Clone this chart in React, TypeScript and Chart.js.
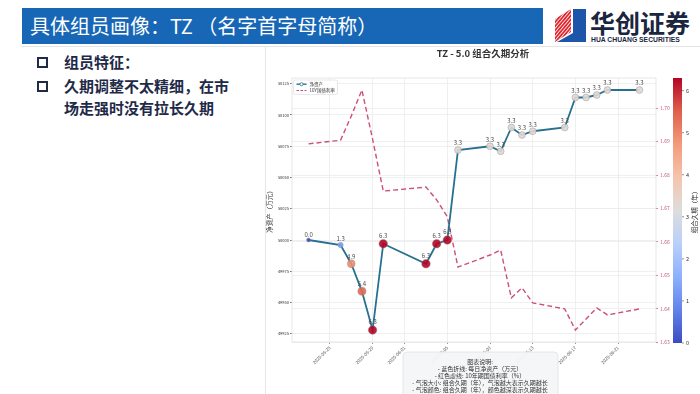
import React, { useEffect, useRef } from 'react';
import { Chart, registerables } from 'chart.js';
Chart.register(...registerables);

const FONT = "'Noto Sans CJK SC', 'DejaVu Sans', sans-serif";

const DATES = ['2025-05-23', '2025-05-26', '2025-05-27', '2025-05-28', '2025-05-29', '2025-05-30', '2025-06-03', '2025-06-04', '2025-06-05', '2025-06-06', '2025-06-09', '2025-06-10', '2025-06-11', '2025-06-12', '2025-06-13', '2025-06-16', '2025-06-17', '2025-06-18', '2025-06-19', '2025-06-20', '2025-06-23'];
const NET_ASSET = [50000, 49996, 49981, 49959, 49928, 49997, 49981, 49997, 50000, 50072, 50075, 50071, 50090, 50084, 50087, 50090, 50114, 50114, 50116, 50120, 50120];
const DURATION = [0.0, 1.3, 4.9, 5.4, 6.3, 6.3, 6.3, 6.3, 6.3, 3.3, 3.3, 3.3, 3.3, 3.3, 3.3, 3.3, 3.3, 3.3, 3.3, 3.3, 3.3];
const BOND_YIELD = [1.6893, 1.6904, 1.6976, 1.7054, 1.6907, 1.6752, 1.6764, 1.6726, 1.6675, 1.6525, 1.6561, 1.6576, 1.6433, 1.6463, 1.6418, 1.64, 1.6337, 1.637, 1.6403, 1.6382, 1.64];

const X_TICK_LABELS = ['2025-05-25', '2025-05-29', '2025-06-01', '2025-06-05', '2025-06-09', '2025-06-13', '2025-06-17', '2025-06-21'];
const Y_TICKS = [49925, 49950, 49975, 50000, 50025, 50050, 50075, 50100, 50125];
const Y1_TICKS = [1.63, 1.64, 1.65, 1.66, 1.67, 1.68, 1.69, 1.7];
const CBAR_TICKS = [0, 1, 2, 3, 4, 5, 6];

const TITLE = 'TZ - 5.0 组合久期分析';
const SERIES_NAMES = ['净资产', '10Y国债利率'];
const Y_TITLE = '净资产（万元）';
const CBAR_TITLE = '组合久期（年）';
const EXPLAIN_LINES = [
  '图表说明:',
  '- 蓝色折线: 每日净资产（万元）',
  '- 红色虚线: 10年期国债利率（%）',
  '- 气泡大小: 组合久期（年），气泡越大表示久期越长',
  '- 气泡颜色: 组合久期（年），颜色越深表示久期越长',
];

const BLUE = '#27708f';
const PINK = '#cc5079';

const dayOf = (s: string) => {
  const [y, m, d] = s.split('-').map(Number);
  return (Date.UTC(y, m - 1, d) - Date.UTC(2025, 4, 23)) / 86400000;
};

const X_DAYS = DATES.map(dayOf);
const X_TICK_DAYS = X_TICK_LABELS.map(dayOf);

const pad = (arr: number[]) => {
  const mn = Math.min(...arr), mx = Math.max(...arr);
  const m = (mx - mn) * 0.05;
  return [mn - m, mx + m];
};
const [XMIN, XMAX] = pad(X_DAYS);
const [YMIN, YMAX] = pad(NET_ASSET);
const [Y1MIN, Y1MAX] = pad(BOND_YIELD);
const DMAX = Math.max(...DURATION);

const CW = [[59, 76, 192], [98, 130, 234], [141, 176, 254], [184, 208, 249], [221, 221, 221], [245, 196, 173], [244, 154, 123], [222, 96, 77], [180, 4, 38]];
function coolwarm(t: number, a = 1) {
  t = Math.max(0, Math.min(1, t));
  const p = t * 8;
  const i = Math.min(7, Math.floor(p));
  const f = p - i;
  const c = CW[i].map((v, k) => Math.round(v + (CW[i + 1][k] - v) * f));
  return `rgba(${c[0]},${c[1]},${c[2]},${a})`;
}
const bubbleR = (d: number) => Math.sqrt(4 + 2.3 * d);

const overlay = {
  id: 'overlay',
  beforeDatasetsDraw(chart: any) {
    const { ctx, chartArea: ca } = chart;
    ctx.save();
    ctx.strokeStyle = '#e2e2e2';
    ctx.lineWidth = 0.8;
    ctx.strokeRect(ca.left, ca.top, ca.right - ca.left, ca.bottom - ca.top);
    ctx.restore();
  },
  afterDatasetsDraw(chart: any) {
    const ctx = chart.ctx;
    const meta = chart.getDatasetMeta(0);
    ctx.save();
    ctx.font = `6px ${FONT}`;
    ctx.fillStyle = '#4a4a4a';
    ctx.textAlign = 'center';
    ctx.textBaseline = 'bottom';
    meta.data.forEach((pt: any, i: number) => {
      ctx.fillText(DURATION[i].toFixed(1), pt.x, pt.y - bubbleR(DURATION[i]) - 0.5);
    });
    ctx.restore();
  },
  afterDraw(chart: any) {
    const { ctx, chartArea: ca } = chart;
    ctx.save();
    // legend
    const lx = ca.left + 1.5, ly = ca.top + 2;
    ctx.fillStyle = 'rgba(255,255,255,0.9)';
    ctx.strokeStyle = '#d0d0d0';
    ctx.lineWidth = 0.5;
    ctx.beginPath();
    (ctx as any).roundRect(lx, ly, 44, 14.5, 1.5);
    ctx.fill();
    ctx.stroke();
    ctx.lineWidth = 1.4;
    ctx.strokeStyle = BLUE;
    ctx.beginPath();
    ctx.moveTo(lx + 3, ly + 4.2);
    ctx.lineTo(lx + 13, ly + 4.2);
    ctx.stroke();
    ctx.fillStyle = '#fff';
    ctx.lineWidth = 0.8;
    ctx.beginPath();
    ctx.arc(lx + 8, ly + 4.2, 1.6, 0, Math.PI * 2);
    ctx.fill();
    ctx.stroke();
    ctx.strokeStyle = PINK;
    ctx.lineWidth = 1.2;
    ctx.setLineDash([2.5, 1.5]);
    ctx.beginPath();
    ctx.moveTo(lx + 3, ly + 10.5);
    ctx.lineTo(lx + 13, ly + 10.5);
    ctx.stroke();
    ctx.setLineDash([]);
    ctx.fillStyle = '#333';
    ctx.font = `4.5px ${FONT}`;
    ctx.textAlign = 'left';
    ctx.textBaseline = 'middle';
    ctx.fillText(SERIES_NAMES[0], lx + 16, ly + 4.2);
    ctx.fillText(SERIES_NAMES[1], lx + 16, ly + 10.5);

    // colorbar
    const cx = ca.right + 17, cw = 9;
    const top = ca.top, bot = ca.bottom + 1;
    const g = ctx.createLinearGradient(0, bot, 0, top);
    CW.forEach((_, i) => g.addColorStop(i / 8, coolwarm(i / 8)));
    ctx.fillStyle = g;
    ctx.fillRect(cx, top, cw, bot - top);
    ctx.strokeStyle = '#444';
    ctx.lineWidth = 0.6;
    ctx.fillStyle = '#333';
    ctx.font = `5.5px ${FONT}`;
    ctx.textAlign = 'left';
    ctx.textBaseline = 'middle';
    CBAR_TICKS.forEach((v) => {
      const y = bot - (v / DMAX) * (bot - top);
      ctx.beginPath();
      ctx.moveTo(cx + cw, y);
      ctx.lineTo(cx + cw + 2, y);
      ctx.stroke();
      ctx.fillText(String(v), cx + cw + 4, y);
    });
    ctx.save();
    ctx.translate(cx + cw + 13, (top + bot) / 2);
    ctx.rotate(-Math.PI / 2);
    ctx.font = `6.5px ${FONT}`;
    ctx.textAlign = 'center';
    ctx.fillText(CBAR_TITLE, 0, 0);
    ctx.restore();

    // explanation box
    const bx = 137, by = 306, bw = 155, bh = 60;
    ctx.fillStyle = 'rgba(244,246,248,0.95)';
    ctx.strokeStyle = '#d5dae0';
    ctx.lineWidth = 0.6;
    ctx.beginPath();
    (ctx as any).roundRect(bx, by, bw, bh, 4);
    ctx.fill();
    ctx.stroke();
    ctx.fillStyle = '#333';
    ctx.font = `6px ${FONT}`;
    ctx.textAlign = 'center';
    ctx.textBaseline = 'middle';
    EXPLAIN_LINES.forEach((t, i) => ctx.fillText(t, bx + bw / 2 - 0.5, by + 10 + i * 7));
    ctx.restore();
  },
};

export default function App() {
  const ref = useRef<HTMLCanvasElement>(null);
  useEffect(() => {
    const chart = new Chart(ref.current as HTMLCanvasElement, {
      type: 'line',
      data: {
        datasets: [
          {
            label: SERIES_NAMES[0],
            data: X_DAYS.map((x, i) => ({ x, y: NET_ASSET[i] })),
            yAxisID: 'y',
            borderColor: BLUE,
            borderWidth: 1.8,
            tension: 0,
            pointRadius: (c: any) => bubbleR(DURATION[c.dataIndex]),
            pointBackgroundColor: (c: any) => coolwarm(DURATION[c.dataIndex] / DMAX, 0.9),
            pointBorderColor: 'rgba(140,140,140,0.7)',
            pointBorderWidth: 0.6,
          },
          {
            label: SERIES_NAMES[1],
            data: X_DAYS.map((x, i) => ({ x, y: BOND_YIELD[i] })),
            yAxisID: 'y1',
            borderColor: PINK,
            borderWidth: 1.4,
            borderDash: [5, 3],
            tension: 0,
            pointRadius: 0,
          },
        ],
      } as any,
      options: {
        animation: false,
        responsive: false,
        events: [],
        layout: { padding: 0 },
        plugins: {
          legend: { display: false },
          tooltip: { enabled: false },
          title: {
            display: true,
            text: TITLE,
            color: '#333',
            font: { family: FONT, size: 9.5, weight: 'bold' },
            padding: { top: 2, bottom: 18.6 },
          },
        },
        scales: {
          x: {
            type: 'linear',
            min: XMIN,
            max: XMAX,
            afterBuildTicks: (s: any) => { s.ticks = X_TICK_DAYS.map((v) => ({ value: v })); },
            afterFit: (s: any) => { s.height = 52; },
            ticks: {
              autoSkip: false,
              minRotation: 45,
              maxRotation: 45,
              padding: 1,
              color: '#555',
              font: { family: FONT, size: 4.5 },
              callback: (_v: any, i: number) => X_TICK_LABELS[i],
            },
            grid: { color: '#ebebeb', lineWidth: 0.8, tickLength: 2, tickColor: '#777' },
            border: { display: false },
          },
          y: {
            position: 'left',
            min: YMIN,
            max: YMAX,
            afterBuildTicks: (s: any) => { s.ticks = Y_TICKS.map((v) => ({ value: v })); },
            afterFit: (s: any) => { s.width = 26; },
            ticks: { padding: 1, color: '#333', font: { family: FONT, size: 4 }, callback: (v: any) => String(v) },
            grid: { color: '#ececec', lineWidth: 0.8, tickLength: 2, tickColor: '#555' },
            border: { display: false },
            title: { display: true, text: Y_TITLE, color: '#333', font: { family: FONT, size: 6.5 }, padding: { top: 0, bottom: 0 } },
          },
          y1: {
            position: 'right',
            min: Y1MIN,
            max: Y1MAX,
            afterBuildTicks: (s: any) => { s.ticks = Y1_TICKS.map((v) => ({ value: v })); },
            afterFit: (s: any) => { s.width = 44; },
            ticks: { padding: 2, color: '#c8567c', font: { family: FONT, size: 5 }, callback: (v: any) => Number(v).toFixed(2) },
            grid: { color: '#ececec', lineWidth: 0.8, tickLength: 2, tickColor: '#c8567c' },
            border: { display: false },
          },
        },
      } as any,
      plugins: [overlay],
    });
    return () => chart.destroy();
  }, []);

  const navy = '#1e2a47';
  return (
    <div style={{ position: 'fixed', left: 0, top: 0, width: 700, height: 394, background: '#fff', overflow: 'hidden', fontFamily: FONT }}>
      <div style={{ position: 'absolute', left: 22, top: 8, width: 521, height: 36, background: '#1767b6' }} />
      <div style={{ position: 'absolute', left: 30, top: 8, height: 36, lineHeight: '36px', color: '#fff', fontSize: 20, whiteSpace: 'nowrap' }}>
        具体组员画像：TZ （名字首字母简称）
      </div>
      <svg style={{ position: 'absolute', left: 552, top: 7 }} width={36} height={36} viewBox="0 0 36 36">
        <defs>
          <pattern id="stripes" width="2.6" height="2.6" patternUnits="userSpaceOnUse" patternTransform="rotate(40)">
            <rect width="2.6" height="2.6" fill="#e3262d" />
            <rect width="0.8" height="2.6" fill="#ffffff" />
          </pattern>
        </defs>
        <polygon points="3,12 19,2 19,25 3,35" fill="url(#stripes)" />
        <polygon points="21,2 34,2 34,35 5,35 21,26" fill="#1d56a8" />
      </svg>
      <div style={{ position: 'absolute', left: 590, top: 7, fontSize: 25, lineHeight: '30px', fontWeight: 700, color: '#1a2540', whiteSpace: 'nowrap' }}>华创证券</div>
      <div style={{ position: 'absolute', left: 591, top: 36, fontSize: 6.8, lineHeight: '8px', fontWeight: 700, color: '#1a2540', whiteSpace: 'nowrap', fontFamily: "'Liberation Sans Narrow', 'Liberation Sans', sans-serif" }}>HUA CHUANG SECURITIES</div>
      <div style={{ position: 'absolute', left: 22, top: 46, width: 678, height: 1, background: '#e4e4e4' }} />
      <div style={{ position: 'absolute', left: 265, top: 47, width: 1, height: 347, background: '#e6e6e6' }} />

      <div style={{ position: 'absolute', left: 37, top: 57, width: 7, height: 7, border: `2px solid ${navy}` }} />
      <div style={{ position: 'absolute', left: 64, top: 51, fontSize: 15, lineHeight: '22px', color: navy, fontWeight: 700, whiteSpace: 'nowrap' }}>组员特征：</div>
      <div style={{ position: 'absolute', left: 37, top: 81, width: 7, height: 7, border: `2px solid ${navy}` }} />
      <div style={{ position: 'absolute', left: 64, top: 75, fontSize: 15, lineHeight: '22px', color: navy, fontWeight: 700, whiteSpace: 'nowrap' }}>
        久期调整不太精细，在市
        <br />
        场走强时没有拉长久期
      </div>

      <canvas ref={ref} width={434} height={348} style={{ position: 'absolute', left: 266, top: 46, width: 434, height: 348 }} />
    </div>
  );
}
